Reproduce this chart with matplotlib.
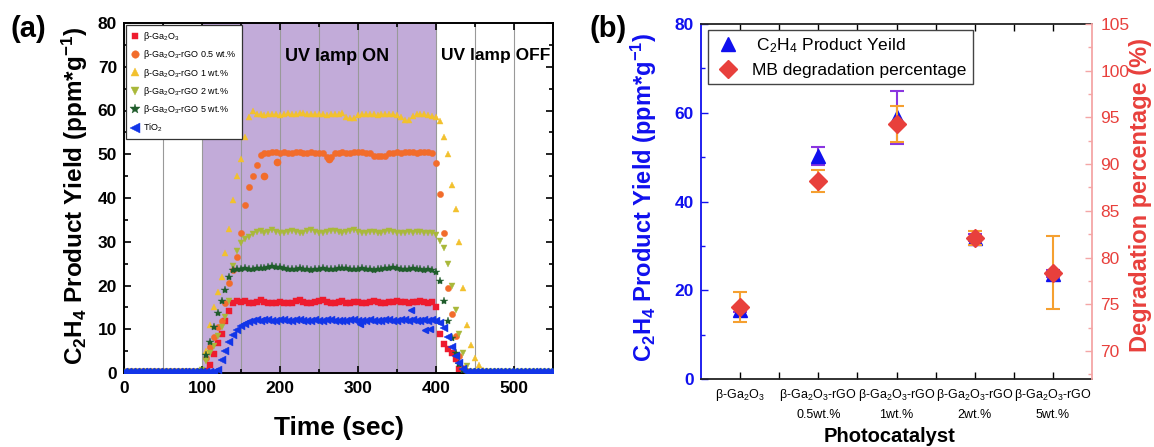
import numpy as np
import matplotlib
matplotlib.use("Agg")
import matplotlib.pyplot as plt
from matplotlib.ticker import MultipleLocator
from matplotlib.lines import Line2D

plt.rcParams['font.family'] = ['Liberation Sans', 'DejaVu Sans']
plt.rcParams['mathtext.default'] = 'regular'

# ---------------- Panel (a) data: C2H4 yield vs time ----------------
time_s = np.arange(0, 555, 5)

ga2o3 = [0.3, 0.3, 0.3, 0.3, 0.3, 0.3, 0.3, 0.3, 0.3, 0.3,
         0.3, 0.3, 0.3, 0.3, 0.3, 0.3, 0.3, 0.3, 0.3, 0.3, 0.3,
         0.5, 1.8, 4.4, 6.8, 9.0, 11.8, 14.2, 16.0, 16.4, 16.2,
         16.5, 16.1, 16.0, 16.3, 16.6, 16.2, 15.9, 16.0, 16.1, 16.2,
         16.0, 15.9, 16.1, 16.4, 16.6, 16.3, 16.0, 16.0, 16.2, 16.5,
         16.7, 16.3, 16.1, 16.0, 16.2, 16.4, 16.1, 16.0, 16.2, 16.3,
         16.1, 16.0, 16.2, 16.4, 16.3, 16.1, 16.0, 16.2, 16.3, 16.4,
         16.3, 16.2, 16.1, 16.3, 16.2, 16.4, 16.2, 16.1, 16.3,
         15.0, 9.0, 6.7, 5.5, 4.6, 3.2, 1.0, 0.2,
         0.1, 0.1, 0.1, 0.1, 0.1, 0.1, 0.1, 0.1, 0.1, 0.1,
         0.1, 0.1, 0.1, 0.1, 0.1, 0.1, 0.1, 0.1, 0.1, 0.1,
         0.1, 0.1, 0.1]

rgo_05 = [0.3, 0.3, 0.3, 0.3, 0.3, 0.3, 0.3, 0.3, 0.3, 0.3,
          0.3, 0.3, 0.3, 0.3, 0.3, 0.3, 0.3, 0.3, 0.3, 0.3, 0.3,
          3.5, 6.0, 8.2, 10.5, 12.0, 16.0, 20.5, 23.5, 26.5, 32.0,
          38.5, 42.5, 45.0, 47.5, 49.8, 50.2, 50.3, 50.5, 50.6,
          50.4, 50.5, 50.3, 50.4, 50.6, 50.5, 50.4, 50.3, 50.5, 50.4,
          50.3, 50.2, 49.3, 49.4, 50.2, 50.4, 50.5, 50.4, 50.3, 50.5,
          50.6, 50.5, 50.4, 50.3, 49.6, 49.5, 49.5, 49.7, 50.3, 50.4,
          50.5, 50.4, 50.5, 50.6, 50.5, 50.4, 50.5, 50.6, 50.5, 50.4,
          48.0, 41.0, 32.0, 19.5, 13.5, 8.5, 4.0, 1.2, 0.4,
          0.2, 0.2, 0.2, 0.2, 0.2, 0.2, 0.2, 0.2, 0.2, 0.2,
          0.2, 0.2, 0.2, 0.2, 0.2, 0.2, 0.2, 0.2, 0.2, 0.2,
          0.2, 0.2]

rgo_1 = [0.3, 0.3, 0.3, 0.3, 0.3, 0.3, 0.3, 0.3, 0.3, 0.3,
         0.3, 0.3, 0.3, 0.3, 0.3, 0.3, 0.3, 0.3, 0.3, 0.3,
         0.8, 5.0, 11.0, 15.0, 18.5, 22.0, 27.5, 33.0, 39.5, 45.0,
         49.0, 54.0, 58.5, 60.0,
         59.3, 59.1, 59.0, 59.2, 59.3, 59.1, 59.0, 59.2, 59.4, 59.3,
         59.2, 59.4, 59.5, 59.3, 59.2, 59.1, 59.3, 59.2, 59.0, 59.1,
         59.2, 59.3, 59.4, 58.6, 58.2, 58.4, 59.0, 59.2, 59.3, 59.2,
         59.1, 59.0, 59.2, 59.3, 59.2, 59.1, 59.0, 58.5, 57.8, 57.9,
         58.8, 59.3, 59.2, 59.1, 59.0, 58.8,
         58.6, 57.5, 54.0, 50.0, 43.0, 37.5, 30.0, 19.5, 11.0, 6.5,
         3.5, 1.8, 0.8, 0.5,
         0.2, 0.2, 0.2, 0.2, 0.2, 0.2, 0.2, 0.2, 0.2, 0.2,
         0.2, 0.2, 0.2, 0.2, 0.2, 0.2, 0.2]

rgo_2 = [0.3, 0.3, 0.3, 0.3, 0.3, 0.3, 0.3, 0.3, 0.3, 0.3,
         0.3, 0.3, 0.3, 0.3, 0.3, 0.3, 0.3, 0.3, 0.3, 0.3,
         0.6, 2.8, 4.5, 6.2, 8.5, 10.5, 12.8, 16.5, 24.5, 28.0,
         29.8, 30.6, 31.2, 31.8, 32.3,
         32.4, 32.1, 32.3, 32.6, 32.2, 31.9, 32.0, 32.3, 32.5, 32.2,
         32.0, 32.1, 32.4, 32.6, 32.3, 32.1, 31.9, 32.2, 32.4, 32.5,
         32.3, 32.0, 32.2, 32.4, 32.6, 32.3, 32.1, 32.0, 32.2, 32.3,
         32.1, 32.0, 32.2, 32.4, 32.3, 32.1, 31.9, 32.0, 32.2, 32.1,
         32.3, 32.2, 32.0, 32.1, 32.0,
         31.6, 30.2, 28.5, 25.0, 20.0, 14.5, 9.0, 4.5, 1.5,
         0.3, 0.3, 0.3, 0.3, 0.3, 0.3, 0.3, 0.3, 0.3, 0.3,
         0.3, 0.3, 0.3, 0.3, 0.3, 0.3, 0.3, 0.3, 0.3, 0.3,
         0.3, 0.3]

rgo_5 = [0.3, 0.3, 0.3, 0.3, 0.3, 0.3, 0.3, 0.3, 0.3, 0.3,
         0.3, 0.3, 0.3, 0.3, 0.3, 0.3, 0.3, 0.3, 0.3, 0.3,
         0.8, 4.2, 7.0, 10.5, 13.8, 16.5, 19.0, 22.0, 23.6, 23.8,
         23.8, 23.9, 23.7, 23.8, 23.9, 24.0, 24.1, 24.3, 24.4, 24.3,
         24.2, 24.0, 23.8, 23.7, 23.8, 23.9, 23.8, 23.7, 23.6, 23.7,
         23.8, 23.9, 23.8, 23.7, 23.8, 23.9, 24.0, 23.9, 23.8, 23.7,
         23.8, 23.9, 23.8, 23.7, 23.6, 23.7, 23.8, 23.9, 24.1, 24.2,
         23.9, 23.8, 23.7, 23.8, 23.9, 23.8, 23.7, 23.6, 23.7, 23.6,
         23.2, 21.0, 16.5, 12.0, 8.0, 4.5, 2.0, 0.6,
         0.2, 0.2, 0.2, 0.2, 0.2, 0.2, 0.2, 0.2, 0.2, 0.2,
         0.2, 0.2, 0.2, 0.2, 0.2, 0.2, 0.2, 0.2, 0.2, 0.2,
         0.2, 0.2, 0.2]

tio2 = [0.2, 0.2, 0.2, 0.2, 0.2, 0.2, 0.2, 0.2, 0.2, 0.2,
        0.2, 0.2, 0.2, 0.2, 0.2, 0.2, 0.2, 0.2, 0.2, 0.2,
        0.2, 0.2, 0.2, 0.2,
        0.6, 2.9, 5.0, 7.0, 8.6, 9.8, 10.7, 11.2, 11.7, 11.9, 12.1,
        12.0, 12.2, 12.1, 11.9, 12.0, 12.2, 12.1, 12.0, 11.9, 12.1,
        12.2, 12.0, 11.8, 11.9, 12.1, 12.0, 11.9, 12.1, 12.2, 12.0,
        11.9, 11.8, 12.0, 12.1, 12.2, 12.0, 11.9, 12.0, 12.1, 12.0,
        11.9, 12.0, 12.2, 12.1, 12.0, 11.9, 12.1, 12.2, 12.0, 12.1,
        12.0, 11.9, 12.1, 12.0, 12.2,
        12.0, 11.5, 10.3, 8.2, 6.0, 4.0, 2.2, 1.0, 0.3,
        0.3, 0.3, 0.3, 0.3, 0.3, 0.3, 0.3, 0.3, 0.3, 0.3,
        0.3, 0.3, 0.3, 0.3, 0.3, 0.3, 0.3, 0.3, 0.3, 0.3,
        0.3, 0.3]

# stray points
rgo_05_out_t = [180, 196, 263]
rgo_05_out_v = [45.0, 48.3, 49.0]
tio2_out_t = [368, 386, 392, 302]
tio2_out_v = [14.5, 9.8, 10.0, 11.3]

series_a = [ga2o3, rgo_05, rgo_1, rgo_2, rgo_5, tio2]
for s in series_a:
    assert len(s) == len(time_s), len(s)

labels_a = ['β-Ga$_2$O$_3$', 'β-Ga$_2$O$_3$-rGO 0.5 wt.%', 'β-Ga$_2$O$_3$-rGO 1 wt.%',
            'β-Ga$_2$O$_3$-rGO 2 wt.%', 'β-Ga$_2$O$_3$-rGO 5 wt.%', 'TiO$_2$']
colors_a = ['#ee1b2e', '#f26c2b', '#f2c12e', '#a9b83a', '#1f5c2b', '#1235e8']
markers_a = ['s', 'o', '^', 'v', '*', '<']
msizes_a = [4.0, 4.5, 5.0, 5.0, 6.0, 5.5]

# ---------------- Panel (b) data ----------------
catalysts = ['β-Ga$_2$O$_3$', 'β-Ga$_2$O$_3$-rGO\n0.5wt.%', 'β-Ga$_2$O$_3$-rGO\n1wt.%',
             'β-Ga$_2$O$_3$-rGO\n2wt.%', 'β-Ga$_2$O$_3$-rGO\n5wt.%']
yield_c2h4 = [15.6, 50.3, 59.0, 31.8, 23.7]
yield_err = [0.6, 2.0, 6.0, 0.8, 0.8]
mb_degr = [74.7, 88.2, 94.3, 82.1, 78.4]
mb_err = [1.65, 1.2, 1.95, 0.72, 3.9]

W, H = 1154, 447
fig = plt.figure(figsize=(W / 100, H / 100), dpi=100)

# ================= Panel (a) =================
ax = fig.add_axes([124 / W, 1 - 373 / H, 429 / W, 350 / H])
ax.axvspan(100, 400, color='#c2abd9', zorder=0, lw=0)
ax.set_axisbelow(True)
ax.grid(axis='x', which='both', color=(0.6, 0.6, 0.6, 0.25), lw=0.8)

handles = []
for i, (vals, lab, c, m, ms) in enumerate(zip(series_a, labels_a, colors_a, markers_a, msizes_a)):
    h, = ax.plot(time_s, vals, ls='none', marker=m, ms=ms, color=c, mec=c, mew=0.3,
                 label=lab, zorder=2 + i)
    handles.append(h)
ax.plot(rgo_05_out_t, rgo_05_out_v, ls='none', marker='o', ms=4.5, color=colors_a[1], zorder=3)
ax.plot(tio2_out_t, tio2_out_v, ls='none', marker='<', ms=5.0, color=colors_a[5], zorder=8)

ax.set_xlim(0, 550)
ax.set_ylim(0, 80)
ax.xaxis.set_major_locator(MultipleLocator(100))
ax.xaxis.set_minor_locator(MultipleLocator(50))
ax.yaxis.set_major_locator(MultipleLocator(10))
ax.yaxis.set_minor_locator(MultipleLocator(5))
ax.tick_params(which='both', direction='in', top=True, right=True, width=1.2)
ax.tick_params(which='major', length=5)
ax.tick_params(which='minor', length=3)
ax.tick_params(axis='x', labelsize=12.5, pad=6)
ax.tick_params(axis='y', labelsize=12.5, pad=5)
for lbl in ax.get_xticklabels() + ax.get_yticklabels():
    lbl.set_fontweight('bold')
for sp in ax.spines.values():
    sp.set_linewidth(1.4)

ax.text(273, 72.4, 'UV lamp ON', ha='center', va='center', fontsize=13, fontweight='bold')
ax.text(476, 72.6, 'UV lamp OFF', ha='center', va='center', fontsize=12.5, fontweight='bold')

leg = ax.legend(handles=handles, loc='upper left', fontsize=6.5, frameon=True, fancybox=False,
                edgecolor='#333333', framealpha=1, borderaxespad=0.25, markerscale=1.2,
                handletextpad=0.4, labelspacing=0.6, handlelength=1.0, borderpad=0.5)
leg.get_frame().set_linewidth(0.9)

fig.text(75 / W, 1 - 196 / H, 'C$_2$H$_4$ Product Yield (ppm*g$^{-1}$)', rotation=90,
         ha='center', va='center', fontsize=17.5, fontweight='bold')
fig.text(339 / W, 1 - 428 / H, 'Time (sec)', ha='center', va='center', fontsize=19,
         fontweight='bold')
fig.text(28 / W, 1 - 29 / H, '(a)', ha='center', va='center', fontsize=21, fontweight='bold')

# ================= Panel (b) =================
blue = '#1010ee'
red = '#e8403c'
pink = '#f4a6a6'
purple = '#8a35e0'
orange = '#f5a030'

x = np.arange(1, len(catalysts) + 1)
bx = fig.add_axes([701 / W, 1 - 379 / H, 391 / W, 355 / H])
br = bx.twinx()

bx.errorbar(x, yield_c2h4, yerr=yield_err, fmt='^', ms=10, color=blue, mec=blue,
            ecolor=purple, elinewidth=1.5, capsize=5, capthick=1.5, zorder=3)
br.errorbar(x, mb_degr, yerr=mb_err, fmt='D', ms=9, color=red, mec=red,
            ecolor=orange, elinewidth=1.5, capsize=5, capthick=1.5, zorder=3)

bx.set_xlim(0.5, 5.5)
bx.set_ylim(0, 80)
br.set_ylim(67, 105)
bx.set_xticks(x)
bx.set_xticklabels(catalysts, fontsize=9)
bx.set_xticks([1.5, 2.5, 3.5, 4.5], minor=True)
for lbl in bx.get_xticklabels():
    lbl.set_linespacing(1.6)
bx.yaxis.set_major_locator(MultipleLocator(20))
bx.yaxis.set_minor_locator(MultipleLocator(10))
br.yaxis.set_major_locator(MultipleLocator(5))
br.yaxis.set_minor_locator(MultipleLocator(2.5))

bx.tick_params(axis='x', which='both', direction='in', top=True, length=5, width=1.0, pad=6)
bx.tick_params(axis='y', which='both', direction='in', colors=blue, width=1.0, labelsize=12.5, pad=5)
bx.tick_params(axis='y', which='major', length=5)
bx.tick_params(axis='y', which='minor', length=3)
for lbl in bx.get_yticklabels():
    lbl.set_fontweight('bold')
br.tick_params(axis='y', which='both', direction='in', color=pink, labelcolor=red,
               width=1.0, labelsize=12.5, pad=6)
br.tick_params(axis='y', which='major', length=5)
br.tick_params(axis='y', which='minor', length=3)

bx.spines['left'].set_color(blue)
bx.spines['right'].set_visible(False)
bx.spines['top'].set_color('#222222')
bx.spines['bottom'].set_color('#222222')
br.spines['left'].set_visible(False)
br.spines['top'].set_visible(False)
br.spines['bottom'].set_visible(False)
br.spines['right'].set_color(pink)
for sp in list(bx.spines.values()) + list(br.spines.values()):
    sp.set_linewidth(1.3)

leg_handles = [Line2D([], [], ls='none', marker='^', ms=10, color=blue),
               Line2D([], [], ls='none', marker='D', ms=9, color=red)]
leg_labels = [' C$_2$H$_4$ Product Yeild', 'MB degradation percentage']
lg = br.legend(leg_handles, leg_labels, loc='upper left', bbox_to_anchor=(0.018, 0.983),
               fontsize=12.5, frameon=True, fancybox=False, edgecolor='#444444', framealpha=1,
               borderaxespad=0, handletextpad=0.6, borderpad=0.35, labelspacing=0.45,
               handlelength=1.6)
lg.get_frame().set_linewidth(1.0)

fig.text(644 / W, 1 - 197 / H, 'C$_2$H$_4$ Product Yield (ppm*g$^{-1}$)', rotation=90,
         ha='center', va='center', fontsize=17, fontweight='bold', color=blue)
fig.text(1140 / W, 1 - 195 / H, 'Degradation percentage (%)', rotation=90,
         ha='center', va='center', fontsize=17, fontweight='bold', color=red)
fig.text(889 / W, 1 - 436 / H, 'Photocatalyst', ha='center', va='center', fontsize=14.5,
         fontweight='bold')
fig.text(608 / W, 1 - 29 / H, '(b)', ha='center', va='center', fontsize=21, fontweight='bold')

fig.savefig('out.png', dpi=100)
